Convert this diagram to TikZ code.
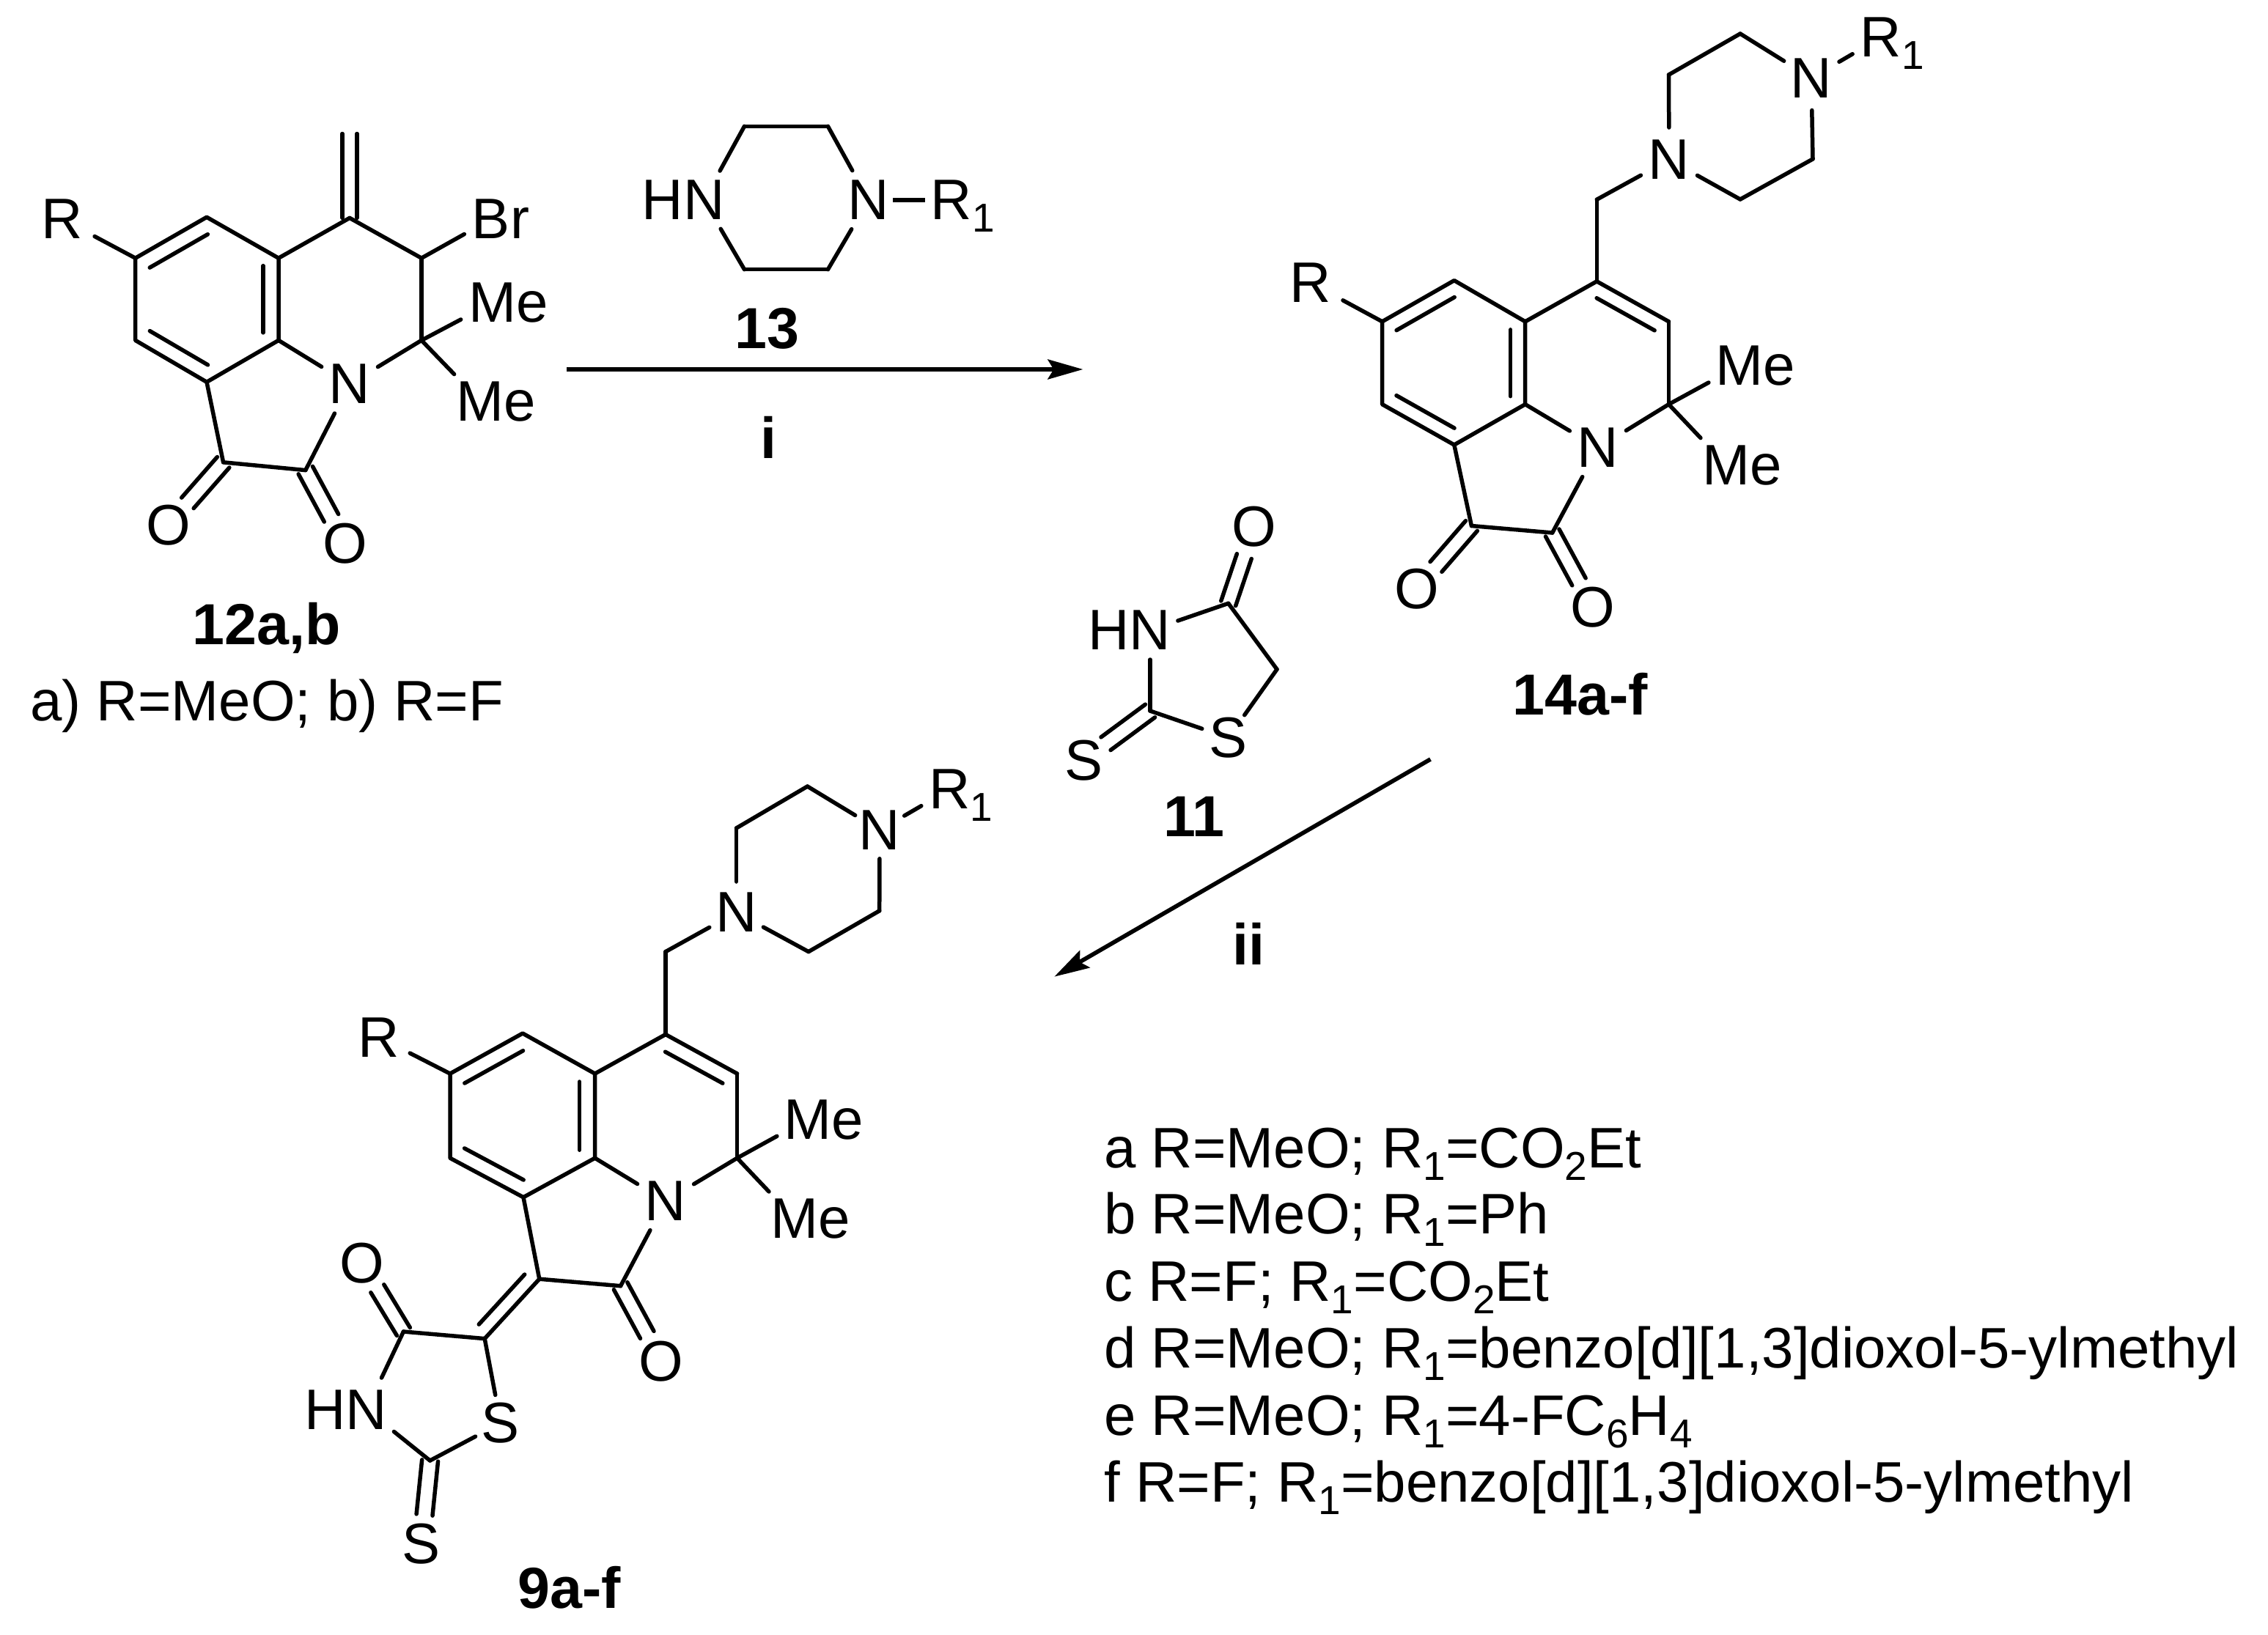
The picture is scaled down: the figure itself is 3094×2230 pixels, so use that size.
\documentclass[tikz,border=0pt]{standalone}
\usepackage{fontspec}
\setmainfont{Liberation Sans}
\usetikzlibrary{calc,arrows.meta}
\newcommand\atm[3]{\makebox[0pt][c]{\smash{\raisebox{-.345em}{\llap{#1}#2\rlap{#3}}}}}
\newcommand\subs[1]{\raisebox{-17pt}{\fontsize{55}{55}\selectfont #1}}
\tikzset{
  x=1pt,y=-1pt,
  every node/.style={inner sep=0pt,outer sep=0pt,font=\fontsize{78}{78}\selectfont},
  bond/.style={line width=5.5pt,line cap=round,line join=round,black},
  atom/.style={circle,minimum size=#1},
  atom/.default=88pt,
  lab/.style={anchor=base,font=\fontsize{79}{79}\bfseries\selectfont},
  txt/.style={anchor=base west},
  arr/.style={line width=5.7pt,black,-{Stealth[length=48pt,width=27pt,inset=8pt]}},
}
% two lines either side of the axis a--b
\newcommand\dbl[3]{%
  \path (#1) -- (#2) coordinate[pos=0] (dA) coordinate[pos=1] (dB);
  \draw[bond] ($(dA)!#3!90:(dB)$) -- ($(dB)!#3!-90:(dA)$);
  \draw[bond] ($(dA)!#3!-90:(dB)$) -- ($(dB)!#3!90:(dA)$);}
% inner line of a double bond, to the left of a->b on the page
\newcommand\inb[4]{%
  \coordinate (iA) at ($(#1)!#4!(#2)$);
  \coordinate (iB) at ($(#2)!#4!(#1)$);
  \draw[bond] ($(iA)!#3!90:(iB)$) -- ($(iB)!#3!-90:(iA)$);}
\newcommand\bonds[1]{\foreach \u/\v in {#1}{\draw[bond] (\u) -- (\v);}}
\begin{document}
\begin{tikzpicture}
\useasboundingbox (0,0) rectangle (3094,2230);
\fill[white] (0,0) rectangle (3094,2230);

%%%% 12a,b
\foreach \n/\x/\y in {a1/184.7/352.2,a2/282/296.3,a3/380/352.2,a4/380/464.4,a5/282/521.3,a6/184.7/464.4,
  ac4/477/297.4,ach/477/182.5,acb/575/352.2,acm/575/464.4,ac1/304.6/630.8,ac2/416.8/641.6}
  {\coordinate (\n) at (\x,\y);}
\node[atom=90pt] (aN) at (477,524) {\atm{}{N}{}};
\node[atom=80pt] (aO1) at (229.6,716.4) {\atm{}{O}{}};
\node[atom=80pt] (aO2) at (471,742) {\atm{}{O}{}};
\node[atom=100pt] (aR) at (85,299) {\atm{}{R}{}};
\node[atom=84pt] (aBr) at (670,299) {\atm{}{B}{r}};
\node[atom=98pt] (aM1) at (672,413) {\atm{}{M}{e}};
\node[atom=102pt] (aM2) at (655,547.3) {\atm{}{M}{e}};
\draw[bond] (a1)--(a2)--(a3)--(a4)--(a5)--(a6)--cycle;
\bonds{a3/ac4,ac4/acb,acb/acm,a4/aN,acm/aN,a5/ac1,ac1/ac2,ac2/aN,a1/aR,acb/aBr,acm/aM1,acm/aM2}
\inb{a2}{a1}{21pt}{10.5pt}
\inb{a4}{a3}{21pt}{10.5pt}
\inb{a6}{a5}{21pt}{10.5pt}
\dbl{ac4}{ach}{10pt}
\dbl{ac1}{aO1}{11pt}
\dbl{ac2}{aO2}{11pt}
\node[lab] (al) at (363.8,879) {12a,b};
\node[txt] (an) at (41,983) {a) R=MeO; b) R=F};

%%%% 13
\foreach \n/\x/\y in {d1/1015.5/172.3,d2/1129.4/172.3,d3/1129.4/367.7,d4/1015.5/367.7}
  {\coordinate (\n) at (\x,\y);}
\node[atom=91pt] (dNH) at (960.2,273) {\atm{H}{N}{}};
\node[atom=92pt] (dN) at (1185,273) {\atm{}{N}{}};
\node[atom=92pt] (dR) at (1298,273) {\atm{}{R}{\subs{1}}};
\bonds{dNH/d1,d1/d2,d2/dN,dN/d3,d3/d4,d4/dNH}
\draw[bond,line cap=butt,shorten <=-13pt,shorten >=-10pt] (dN) -- (dR);
\node[lab] (dl) at (1046,475) {13};
\node[lab] (di) at (1048,625.7) {i};
\coordinate (p1s) at (773,504);
\coordinate (p1e) at (1477.4,504);
\draw[arr] (p1s) -- (p1e);

%%%% 14a-f
\foreach \n/\x/\y in {b1/1885.6/438.8,b2/1983.8/382.7,b3/2080.7/438.8,b4/2080.7/551.7,b5/1983.8/607,b6/1885.6/551.7,
  bc4/2178.3/383.9,bc3/2276.5/438.8,bc2/2276.5/551.7,bch/2178.3/272.3,bk1/2007.4/717.5,bk2/2117.7/727,
  bp1/2276.5/102,bp2/2374/46,bp3/2473/217,bp4/2374/272}
  {\coordinate (\n) at (\x,\y);}
\node[atom=90pt] (bN) at (2180,611) {\atm{}{N}{}};
\node[atom=88pt] (bN1) at (2277,218) {\atm{}{N}{}};
\node[atom=88pt] (bN4) at (2471,106.5) {\atm{}{N}{}};
\node[atom=90pt] (bRo) at (2566,51) {\atm{}{R}{\subs{1}}};
\node[atom=100pt] (bR) at (1788,386) {\atm{}{R}{}};
\node[atom=96pt] (bM1) at (2373,499) {\atm{}{M}{e}};
\node[atom=102pt] (bM2) at (2355,634.6) {\atm{}{M}{e}};
\node[atom=80pt] (bO1) at (1932.8,803.6) {\atm{}{O}{}};
\node[atom=80pt] (bO2) at (2173,829) {\atm{}{O}{}};
\draw[bond] (b1)--(b2)--(b3)--(b4)--(b5)--(b6)--cycle;
\bonds{b3/bc4,bc4/bc3,bc3/bc2,bc4/bch,bch/bN1,bN1/bp1,bp1/bp2,bp2/bN4,bN4/bp3,bp3/bp4,bp4/bN1,bN4/bRo,
  b4/bN,bc2/bN,b5/bk1,bk1/bk2,bk2/bN,b1/bR,bc2/bM1,bc2/bM2}
\inb{b2}{b1}{20pt}{11pt}
\inb{b4}{b3}{20pt}{11pt}
\inb{b6}{b5}{20pt}{11pt}
\inb{bc3}{bc4}{20pt}{11pt}
\dbl{bk1}{bO1}{10.5pt}
\dbl{bk2}{bO2}{10.5pt}
\node[lab] (bl) at (2156,975.8) {14a-f};

%%%% 11
\foreach \n/\x/\y in {e4/1675.7/823.3,e5/1742/913.3,e2/1569/970}
  {\coordinate (\n) at (\x,\y);}
\node[atom=80pt] (eNH) at (1569,860) {\atm{H}{N}{}};
\node[atom=76pt] (eS) at (1675.7,1006.7) {\atm{}{S}{}};
\node[atom=86pt] (eO) at (1711,718.3) {\atm{}{O}{}};
\node[atom=76pt] (eSd) at (1478,1037.3) {\atm{}{S}{}};
\bonds{eNH/e4,e4/e5,e5/eS,eS/e2,e2/eNH}
\dbl{e4}{eO}{10.5pt}
\dbl{e2}{eSd}{11pt}
\node[lab] (el) at (1629,1141.7) {11};
\node[lab] (ei) at (1703,1316.7) {ii};
\coordinate (p2s) at (1951.4,1036);
\coordinate (p2e) at (1438.3,1332.7);
\draw[arr] (p2s) -- (p2e);

%%%% 9a-f
\foreach \n/\x/\y in {c1/614/1465,c2/713/1410,c3/811.6/1465,c4/811.6/1580.2,c5/714/1633.7,c6/614/1580.2,
  cc4/908/1411.5,cc3/1005.6/1465,cc2/1005.6/1580.2,cch/908/1298.6,ck1/735.8/1745.2,ck2/846.6/1754.7,
  cp1/1004.5/1130,cp2/1101.5/1073,cp3/1199.7/1242.8,cp4/1103/1298.6,
  t5/661.2/1826.6,t4/550.4/1817,t2/586.6/1993}
  {\coordinate (\n) at (\x,\y);}
\node[atom=90pt] (cN) at (908,1638.9) {\atm{}{N}{}};
\node[atom=84pt] (cN1) at (1004.5,1245) {\atm{}{N}{}};
\node[atom=78pt] (cN4) at (1200,1132.7) {\atm{}{N}{}};
\node[atom=90pt] (cRo) at (1295.7,1077) {\atm{}{R}{\subs{1}}};
\node[atom=96pt] (cR) at (516.5,1415.2) {\atm{}{R}{}};
\node[atom=95pt] (cM1) at (1101.5,1527.4) {\atm{}{M}{e}};
\node[atom=102pt] (cM2) at (1084,1663) {\atm{}{M}{e}};
\node[atom=82pt] (cO) at (902.3,1857.4) {\atm{}{O}{}};
\node[atom=82pt] (tO) at (493.6,1723.2) {\atm{}{O}{}};
\node[atom=96pt] (tN) at (500,1923.4) {\atm{H}{N}{}};
\node[atom=78pt] (tS) at (683,1941.8) {\atm{}{S}{}};
\node[atom=80pt] (tSd) at (575,2106.8) {\atm{}{S}{}};
\draw[bond] (c1)--(c2)--(c3)--(c4)--(c5)--(c6)--cycle;
\bonds{c3/cc4,cc4/cc3,cc3/cc2,cc4/cch,cch/cN1,cN1/cp1,cp1/cp2,cp2/cN4,cN4/cp3,cp3/cp4,cp4/cN1,cN4/cRo,
  c4/cN,cc2/cN,c5/ck1,ck1/ck2,ck2/cN,c1/cR,cc2/cM1,cc2/cM2,ck1/t5,t5/t4,t4/tN,tN/t2,t2/tS,tS/t5}
\inb{c2}{c1}{21pt}{11pt}
\inb{c4}{c3}{21pt}{11pt}
\inb{c6}{c5}{21pt}{11pt}
\inb{cc3}{cc4}{21pt}{11pt}
\inb{t5}{ck1}{19pt}{9pt}
\dbl{ck2}{cO}{10.5pt}
\dbl{t4}{tO}{10.5pt}
\dbl{t2}{tSd}{11pt}
\node[lab] (cl) at (777,2194.8) {9a-f};

%%%% substituent list
\node[txt] (la) at (1506,1593.3) {a R=MeO; R\subs{1}=CO\subs{2}Et};
\node[txt] (lb) at (1506,1683.9) {b R=MeO; R\subs{1}=Ph};
\node[txt] (lc) at (1506,1775.3) {c R=F; R\subs{1}=CO\subs{2}Et};
\node[txt] (ld) at (1506,1866.7) {d R=MeO; R\subs{1}=benzo[d][1,3]dioxol-5-ylmethyl};
\node[txt] (le) at (1506,1958.4) {e R=MeO; R\subs{1}=4-FC\subs{6}H\subs{4}};
\node[txt] (lf) at (1506,2049) {f R=F; R\subs{1}=benzo[d][1,3]dioxol-5-ylmethyl};
\end{tikzpicture}
\end{document}
